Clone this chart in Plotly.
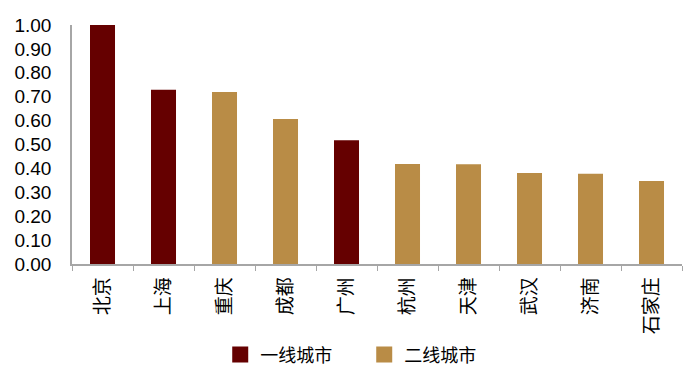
import plotly.graph_objects as go

cities = ["北京", "上海", "重庆", "成都", "广州", "杭州", "天津", "武汉", "济南", "石家庄"]
values = [1.00, 0.729, 0.72, 0.607, 0.518, 0.418, 0.417, 0.381, 0.378, 0.347]
tier = ["一线城市", "一线城市", "二线城市", "二线城市", "一线城市",
        "二线城市", "二线城市", "二线城市", "二线城市", "二线城市"]
series_names = ["一线城市", "二线城市"]
colors = {"一线城市": "#650000", "二线城市": "#B98C46"}

fig = go.Figure()
for name in series_names:
    xs = [c for c, t in zip(cities, tier) if t == name]
    ys = [v for v, t in zip(values, tier) if t == name]
    fig.add_trace(go.Bar(x=xs, y=ys, name=name, marker_color=colors[name],
                         marker_line_width=0, width=0.41, showlegend=False,
                         legendgroup=name))
    # legend entry with a larger square swatch
    fig.add_trace(go.Scatter(x=[None], y=[None], mode="markers", name=name,
                             legendgroup=name,
                             marker=dict(symbol="square", size=16, color=colors[name])))

font = "Liberation Sans, Arial, Noto Sans CJK SC"
fig.update_layout(
    width=686, height=370,
    margin=dict(l=64, r=12, t=17, b=114, autoexpand=False),
    paper_bgcolor="white", plot_bgcolor="white",
    barmode="relative",
    font=dict(family=font, size=19, color="black"),
    showlegend=True,
    legend=dict(orientation="h", x=0.243, xanchor="left", y=-0.38, yanchor="middle",
                font=dict(size=18), itemwidth=30, traceorder="normal",
                tracegroupgap=0, entrywidth=99, entrywidthmode="pixels"),
)
fig.update_xaxes(
    type="category", categoryorder="array", categoryarray=cities,
    showline=True, linecolor="#a6a6a6", linewidth=1.5,
    ticks="outside", tickson="boundaries", ticklen=5, tickcolor="#a6a6a6",
    tickangle=-90, tickfont=dict(size=19), showgrid=False,
    ticklabelstandoff=4, automargin=False,
)
fig.update_yaxes(
    range=[0, 1.0], tickvals=[i / 10 for i in range(11)], tickformat=".2f",
    showline=True, linecolor="#a6a6a6", linewidth=1.5, ticks="",
    showgrid=False, zeroline=False, tickfont=dict(size=19),
    ticklabelstandoff=15, automargin=False,
)
fig.write_html("out.html")
